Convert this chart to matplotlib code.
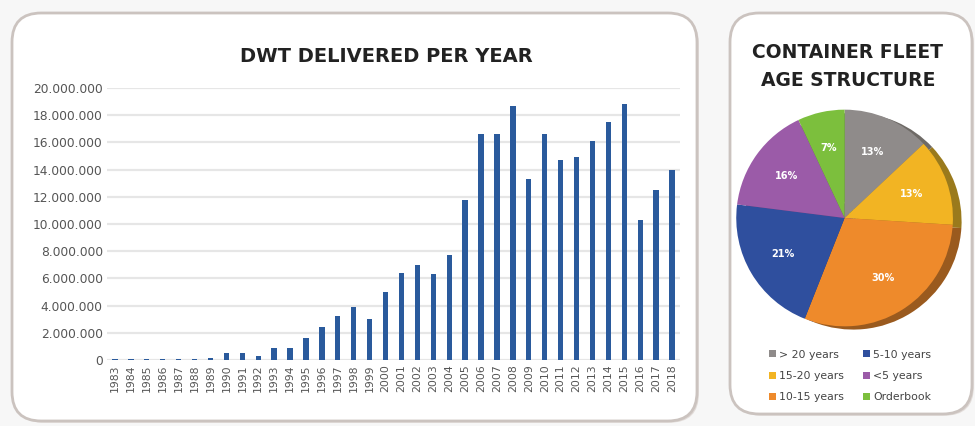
import matplotlib
matplotlib.use("Agg")
import matplotlib.pyplot as plt
from matplotlib.patches import FancyBboxPatch, Patch

# Deliveries (DWT) per year
years = [str(y) for y in range(1983, 2019)]
dwt = [60000, 60000, 70000, 60000, 70000, 80000, 150000,
       500000, 500000, 300000, 850000, 850000, 1600000, 2450000,
       3200000, 3900000, 3000000, 5000000, 6400000, 7000000,
       6300000, 7700000, 11800000, 16600000, 16600000, 18700000,
       13300000, 16600000, 14700000, 14900000, 16100000, 17500000,
       18800000, 10300000, 12500000, 14000000]
y_ticks = list(range(0, 20000001, 2000000))

# Container fleet age structure (%)
age_labels = ["> 20 years", "15-20 years", "10-15 years",
              "5-10 years", "<5 years", "Orderbook"]
age_share = [13, 13, 30, 21, 16, 7]
age_colors = ["#8f8b8a", "#f2b423", "#ee8a2b", "#2f4f9e", "#9b5ba8", "#7cbf3d"]
rim_colors = ["#6e6a66", "#9a7a1c", "#9a5a1e", "#26386e", "#6a3e74", "#55822c"]

W, H = 975, 426
fig = plt.figure(figsize=(W / 100, H / 100), dpi=100, facecolor="#f7f7f7")


def fx(px):
    return px / W


def fy(py):
    return 1 - py / H


# rounded card panels
for (x0, y0, x1, y1) in [(12, 13, 697, 421), (730, 13, 972, 414)]:
    shadow = FancyBboxPatch((fx(x0) + 0.002, fy(y1) - 0.004), fx(x1 - x0), (y1 - y0) / H,
                            boxstyle="round,pad=0,rounding_size=0.03",
                            transform=fig.transFigure, facecolor="#e2dcd9",
                            edgecolor="none", zorder=0, mutation_aspect=W / H)
    fig.patches.append(shadow)
    card = FancyBboxPatch((fx(x0), fy(y1)), fx(x1 - x0), (y1 - y0) / H,
                          boxstyle="round,pad=0,rounding_size=0.03",
                          transform=fig.transFigure, facecolor="white",
                          edgecolor="#cbc3bf", linewidth=2.0, zorder=1,
                          mutation_aspect=W / H)
    fig.patches.append(card)

# ---- bar chart ----
ax = fig.add_axes([fx(107), fy(360), fx(680 - 107), (360 - 88) / H], zorder=2)
ax.set_facecolor("none")
x = list(range(len(years)))
ax.bar(x, dwt, width=0.34, color="#2a5a9c", zorder=3)
ax.set_xlim(-0.5, len(years) - 0.5)
ax.set_ylim(0, 20000000)
ax.set_yticks(y_ticks)
ax.set_yticklabels([f"{v:,.0f}".replace(",", ".") for v in y_ticks],
                   fontsize=8.8, color="#555555")
ax.set_xticks(x)
ax.set_xticklabels(years, rotation=90, fontsize=7.8, color="#555555")
ax.tick_params(length=0, pad=3)
ax.grid(axis="y", color="#e6e6e6", linewidth=1.6, zorder=0)
ax.set_axisbelow(True)
for s in ax.spines.values():
    s.set_visible(False)
fig.text(fx(386), fy(57), "DWT DELIVERED PER YEAR", ha="center", va="center",
         fontsize=14, fontweight="bold", color="#222222")

# ---- pie chart ----
fig.text(fx(848), fy(52), "CONTAINER FLEET", ha="center", va="center",
         fontsize=13.5, fontweight="bold", color="#222222")
fig.text(fx(848), fy(80), "AGE STRUCTURE", ha="center", va="center",
         fontsize=13.5, fontweight="bold", color="#222222")

pax = fig.add_axes([fx(733), fy(335), fx(234), 234 / H], zorder=2)
pax.set_facecolor("none")
pax.pie(age_share, colors=rim_colors, startangle=90, counterclock=False,
        center=(0.08, -0.03), radius=1.0)
wedges, texts, autotexts = pax.pie(
    age_share, colors=age_colors, startangle=90, counterclock=False,
    autopct=lambda p: f"{p:.0f}%", pctdistance=0.66, radius=1.0,
    textprops=dict(color="white", fontsize=7, fontweight="bold"))
pax.set_aspect("equal")
pax.set_xlim(-1.03, 1.13)
pax.set_ylim(-1.08, 1.08)
pax.axis("off")

handles = [Patch(facecolor=c, edgecolor="none") for c in age_colors]
fig.legend(handles, age_labels, ncol=2, loc="center",
           bbox_to_anchor=(fx(850), fy(376)), frameon=False,
           fontsize=7.8, labelcolor="#444444", handlelength=0.6,
           handleheight=0.6, handletextpad=0.3, columnspacing=1.8,
           labelspacing=1.05)

fig.savefig("out.png", dpi=100, facecolor=fig.get_facecolor())
